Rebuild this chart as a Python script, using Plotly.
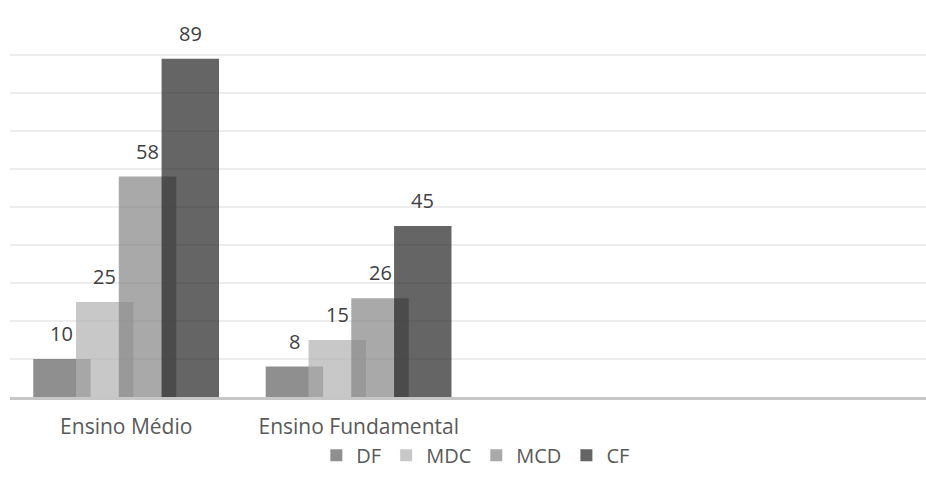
import plotly.graph_objects as go

# Data
categories = ["Ensino Médio", "Ensino Fundamental"]
series_names = ["DF", "MDC", "MCD", "CF"]
df_values = [10, 8]
mdc_values = [25, 15]
mcd_values = [58, 26]
cf_values = [89, 45]

series_values = [df_values, mdc_values, mcd_values, cf_values]
colors = [
    "rgba(95,95,95,0.7)",
    "rgba(177,177,177,0.7)",
    "rgba(132,132,132,0.7)",
    "rgba(36,36,36,0.7)",
]

# overlapping clustered bars: each bar is wider than its step
bar_width = 0.247
step = 0.184
first_offset = -0.4

FONT = "Open Sans"

fig = go.Figure()
annotations = []
for k, (name, vals, col) in enumerate(zip(series_names, series_values, colors)):
    off = first_offset + k * step
    fig.add_trace(go.Bar(
        name=name,
        x=categories,
        y=vals,
        width=[bar_width] * len(vals),
        offset=[off] * len(vals),
        marker=dict(color=col, line=dict(width=0)),
    ))
    for i, v in enumerate(vals):
        annotations.append(dict(
            x=i + off + bar_width / 2, y=v, xref="x", yref="y",
            text=str(v), showarrow=False, yanchor="bottom", xanchor="center",
            yshift=10, font=dict(family=FONT, size=20, color="#404040"),
        ))

fig.update_layout(
    width=926, height=490,
    margin=dict(l=10, r=0, t=17, b=93),
    barmode="overlay",
    paper_bgcolor="white",
    plot_bgcolor="white",
    annotations=annotations,
    showlegend=True,
    legend=dict(
        orientation="h", x=0.508, xanchor="center", y=-0.153, yanchor="middle",
        font=dict(family=FONT, size=20, color="#595959"),
        bgcolor="rgba(0,0,0,0)",
        itemwidth=30, traceorder="normal",
    ),
    font=dict(family=FONT),
)

fig.update_xaxes(
    type="category",
    range=[-0.5, 3.44],
    showline=True, linecolor="#c6c6c6", linewidth=2.5,
    showgrid=False, ticks="",
    ticklabelstandoff=9,
    tickfont=dict(family=FONT, size=21, color="#595959"),
)
fig.update_yaxes(
    range=[0, 100], dtick=10,
    showgrid=True, gridcolor="#ededed", gridwidth=2,
    zeroline=False, showticklabels=False, showline=False,
)

fig.write_html("out.html")
